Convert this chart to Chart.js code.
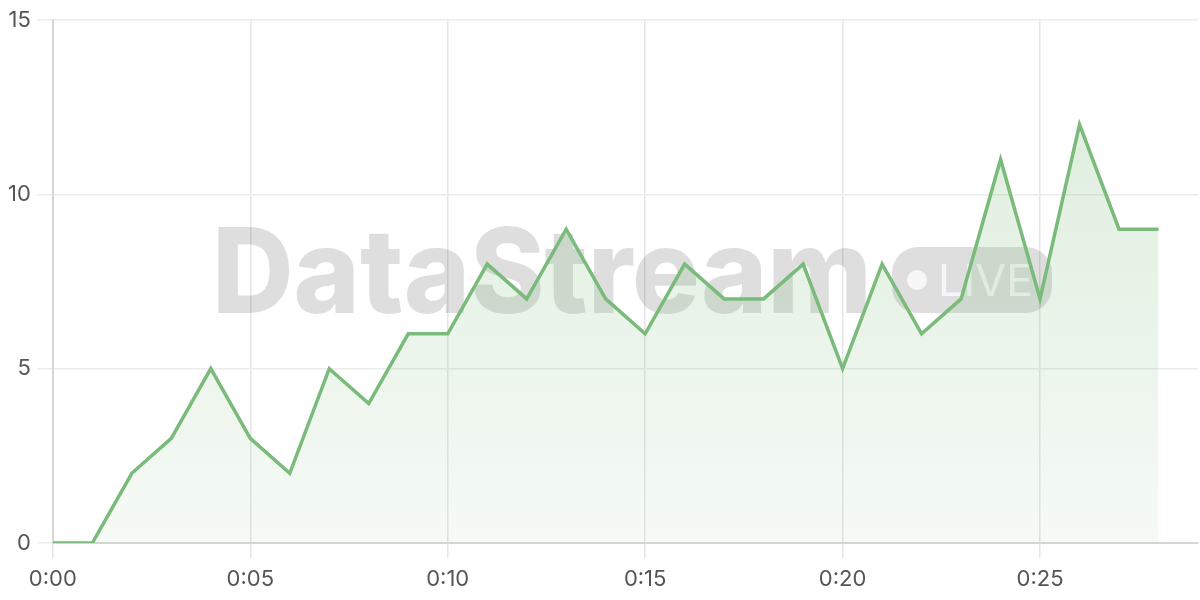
<!DOCTYPE html>
<html>
<head>
<meta charset="utf-8">
<script src="https://cdn.jsdelivr.net/npm/chart.js@4"></script>
<style>
  html, body { margin: 0; padding: 0; background: #fff; }
  #wrap { width: 1200px; height: 600px; position: relative; }
</style>
</head>
<body>
<div id="wrap"><canvas id="liveChart"></canvas></div>
<script>
// minute labels, one per reading (last label has no reading yet)
const minuteLabels = ['0:00','0:01','0:02','0:03','0:04','0:05','0:06','0:07','0:08','0:09',
                      '0:10','0:11','0:12','0:13','0:14','0:15','0:16','0:17','0:18','0:19',
                      '0:20','0:21','0:22','0:23','0:24','0:25','0:26','0:27','0:28','0:29'];
const eventCounts = [0, 0, 2, 3, 5, 3, 2, 5, 4, 6,
                     6, 8, 7, 9, 7, 6, 8, 7, 7, 8,
                     5, 8, 6, 7, 11, 7, 12, 9, 9];
const yTicks = [0, 5, 10, 15];

const lineGreen = 'rgb(122,186,122)';
const fontFamily = 'Inter, "Noto Sans", sans-serif';

// watermark behind the line
const watermark = {
    id: 'watermark',
    beforeDatasetsDraw(chart){
        const ctx = chart.ctx;
        ctx.save();
        ctx.font = '800 118px ' + fontFamily;
        ctx.textBaseline = 'alphabetic';
        ctx.fillStyle = 'rgba(0,0,0,0.13)';
        const w = ctx.measureText('DataStream').width;
        ctx.translate(212, 313);
        ctx.scale(660 / w, 1);
        ctx.fillText('DataStream', 0, 0);
        ctx.restore();

        // LIVE badge
        ctx.save();
        ctx.fillStyle = 'rgba(0,0,0,0.13)';
        ctx.beginPath();
        ctx.roundRect(892, 247, 160, 66, 26);
        ctx.fill();
        ctx.fillStyle = 'rgba(255,255,255,0.75)';
        ctx.beginPath();
        ctx.arc(917, 280, 10, 0, Math.PI*2);
        ctx.fill();
        ctx.font = '400 44px ' + fontFamily;
        ctx.textBaseline = 'alphabetic';
        const lw = ctx.measureText('LIVE').width;
        ctx.translate(938, 296);
        ctx.scale(95 / lw, 1);
        ctx.fillText('LIVE', 0, 0);
        ctx.restore();
    }
};

function areaGradient(context){
    const area = context.chart.chartArea;
    if(!area) return 'rgba(122,186,122,0.15)';
    const g = context.chart.ctx.createLinearGradient(0, area.top, 0, area.bottom);
    g.addColorStop(0, 'rgba(122,186,122,0.28)');
    g.addColorStop(1, 'rgba(122,186,122,0.07)');
    return g;
}

new Chart(document.getElementById('liveChart'), {
    type: 'line',
    data: {
        labels: minuteLabels,
        datasets: [{
            data: eventCounts,
            borderColor: lineGreen,
            borderWidth: 3.5,
            backgroundColor: areaGradient,
            fill: 'origin',
            tension: 0,
            pointRadius: 0
        }]
    },
    options: {
        responsive: true,
        maintainAspectRatio: false,
        animation: false,
        layout: { padding: { left: 2, right: 2, top: 20, bottom: 0 } },
        plugins: {
            legend: { display: false },
            tooltip: { enabled: false }
        },
        scales: {
            x: {
                grid: { color: '#e6e6e6', lineWidth: 1.5, tickLength: 15 },
                border: { color: '#d6d6d6', width: 2 },
                ticks: {
                    autoSkip: false,
                    maxRotation: 0,
                    color: '#555',
                    font: { family: fontFamily, size: 22, lineHeight: 1.0 },
                    padding: 10,
                    callback: function(val, i){
                        return i % 5 === 0 ? minuteLabels[i] : null;
                    }
                }
            },
            y: {
                min: yTicks[0],
                max: yTicks[yTicks.length-1],
                grid: { color: '#ececec', lineWidth: 1.5, tickLength: 16 },
                border: { color: '#d6d6d6', width: 2 },
                afterBuildTicks: axis => { axis.ticks = yTicks.map(v => ({ value: v })); },
                ticks: {
                    color: '#555',
                    font: { family: fontFamily, size: 22 },
                    padding: 6
                }
            }
        }
    },
    plugins: [watermark]
});
</script>
</body>
</html>
